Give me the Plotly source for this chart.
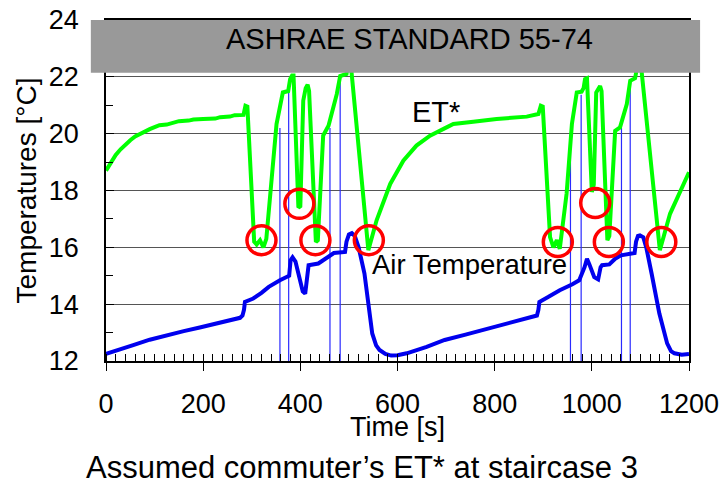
import plotly.graph_objects as go

# ---------------- data ----------------
et_t = [0, 10, 20, 30, 40, 50, 60, 70, 80, 90, 100, 110, 125, 135, 150, 170, 180, 200, 225, 235,
        255, 265, 283, 287, 291, 305, 310, 317, 324, 330, 351, 364, 375, 379, 383, 386, 396, 400,
        406, 411, 415, 418, 432, 436, 447, 458, 475, 482, 495, 500, 503, 540, 557, 585, 612, 639,
        667, 701, 715, 756, 804, 866, 890, 895, 899, 914, 921, 928, 934, 948, 959, 969, 979, 983,
        986, 990, 1000, 1004, 1009, 1017, 1020, 1032, 1036, 1048, 1058, 1072, 1079, 1089, 1096,
        1100, 1140, 1161, 1200]
et_v = [18.70, 19.00, 19.25, 19.45, 19.62, 19.77, 19.90, 20.00, 20.08, 20.16, 20.23, 20.30, 20.32,
        20.38, 20.44, 20.46, 20.50, 20.52, 20.53, 20.58, 20.60, 20.65, 20.66, 20.98, 20.95, 16.20,
        16.10, 16.25, 16.00, 16.30, 20.34, 21.45, 21.50, 21.92, 22.05, 22.05, 17.40, 17.45, 21.16,
        21.60, 21.72, 21.50, 16.19, 16.25, 19.93, 20.28, 21.39, 22.03, 22.10, 22.60, 22.60, 15.90,
        16.95, 18.23, 19.05, 19.58, 19.93, 20.22, 20.34, 20.42, 20.52, 20.60, 20.69, 20.98, 20.95,
        16.36, 16.00, 16.25, 15.95, 17.88, 20.34, 21.45, 21.48, 21.60, 21.92, 21.95, 17.95, 18.20,
        21.45, 21.68, 21.50, 16.25, 16.40, 20.10, 20.22, 21.04, 21.86, 21.95, 22.60, 22.60, 15.90,
        17.18, 18.64]

air_t = [0, 30, 56, 90, 125, 160, 193, 230, 262, 276, 281, 284, 286, 303, 320, 335, 358, 377, 380,
         384, 390, 400, 405, 410, 414, 417, 437, 453, 469, 492, 495, 500, 506, 512, 520, 532, 540,
         548, 556, 563, 575, 587, 600, 619, 660, 697, 740, 776, 815, 855, 880, 887, 890, 892, 910,
         934, 960, 974, 985, 990, 995, 1005, 1013, 1018, 1021, 1036, 1048, 1060, 1088, 1091, 1095,
         1099, 1106, 1112, 1123, 1139, 1155, 1163, 1170, 1185, 1200]
air_v = [12.25, 12.40, 12.56, 12.75, 12.91, 13.05, 13.18, 13.32, 13.44, 13.52, 13.60, 13.80, 14.08,
         14.20, 14.40, 14.61, 14.84, 15.00, 15.55, 15.65, 15.50, 14.80, 14.45, 14.37, 15.00, 15.37,
         15.43, 15.60, 15.80, 15.84, 16.20, 16.45, 16.50, 16.40, 16.00, 15.08, 13.90, 12.97, 12.55,
         12.39, 12.25, 12.19, 12.20, 12.27, 12.50, 12.74, 12.93, 13.09, 13.27, 13.44, 13.55, 13.60,
         13.80, 14.08, 14.25, 14.49, 14.70, 14.84, 15.30, 15.60, 15.40, 14.95, 14.87, 15.30, 15.37,
         15.40, 15.60, 15.72, 15.80, 16.20, 16.40, 16.42, 16.35, 16.00, 15.08, 13.67, 12.62, 12.35,
         12.27, 12.22, 12.25]

# thin vertical marker lines (time, top value)
vline_t = [358, 376, 461, 482, 956, 978, 1061, 1079]
vline_top = [20.2, 21.5, 20.2, 22.0, 19.55, 21.37, 20.2, 21.8]

# red circles (highlighted ET* minima)
circ_t = [320, 398, 431, 541, 930, 1007, 1035, 1143]
circ_v = [16.25, 17.53, 16.25, 16.25, 16.19, 17.56, 16.19, 16.19]

x_ticks = [0, 200, 400, 600, 800, 1000, 1200]
y_ticks = [12, 14, 16, 18, 20, 22, 24]

FONT = "Liberation Sans, Arial, sans-serif"

# ---------------- figure ----------------
fig = go.Figure()

vx, vy = [], []
for t, top in zip(vline_t, vline_top):
    vx += [t, t, None]
    vy += [y_ticks[0], top, None]
fig.add_trace(go.Scatter(x=vx, y=vy, mode="lines", line=dict(color="#2a2aff", width=1.2),
                         hoverinfo="skip", showlegend=False))

fig.add_trace(go.Scatter(x=air_t, y=air_v, mode="lines", name="Air Temperature",
                         line=dict(color="#0000ee", width=4), showlegend=False))
fig.add_trace(go.Scatter(x=et_t, y=et_v, mode="lines", name="ET*",
                         line=dict(color="#00ff00", width=4), showlegend=False))
fig.add_trace(go.Scatter(x=circ_t, y=circ_v, mode="markers",
                         marker=dict(symbol="circle-open", size=29, color="#ff0000",
                                     line=dict(color="#ff0000", width=3.5)),
                         showlegend=False))

# gray standard band
fig.add_shape(type="rect", xref="paper", yref="y", x0=-0.026, x1=1.019, y0=22.14, y1=24.05,
              fillcolor="#999999", line=dict(width=0), layer="above")

fig.add_annotation(text="ASHRAE STANDARD 55-74", xref="paper", yref="paper", x=0.5214, y=0.945,
                   xanchor="center", yanchor="middle", showarrow=False,
                   font=dict(size=29, color="black", family=FONT))
fig.add_annotation(text="ET*", x=679, y=20.78, xanchor="center", yanchor="middle", showarrow=False,
                   font=dict(size=29, color="black", family=FONT))
fig.add_annotation(text="Air Temperature", x=749, y=15.38, xanchor="center", yanchor="middle",
                   showarrow=False, font=dict(size=27.5, color="black", family=FONT))

# axis titles & caption as annotations (pixel placement)
fig.add_annotation(text="Temperatures [°C]", xref="paper", yref="paper", x=0, y=0.5,
                   xanchor="center", yanchor="middle", xshift=-80, textangle=-90, showarrow=False,
                   font=dict(size=28, color="black", family=FONT))
fig.add_annotation(text="Time [s]", xref="paper", yref="paper", x=0.5, y=0,
                   xanchor="center", yanchor="middle", yshift=-66, showarrow=False,
                   font=dict(size=27, color="black", family=FONT))
fig.add_annotation(text="Assumed commuter’s ET* at staircase 3", xref="paper", yref="paper",
                   x=(362 - 106) / 583, y=0, xanchor="center", yanchor="middle", yshift=-106,
                   showarrow=False, font=dict(size=31, color="black", family=FONT))

fig.update_layout(
    width=725, height=486, autosize=False,
    margin=dict(l=106, r=36, t=20, b=125, pad=0),
    paper_bgcolor="white", plot_bgcolor="white",
    font=dict(family=FONT, size=27, color="black"),
    showlegend=False,
)
fig.update_xaxes(
    range=[0, 1200], tickvals=x_ticks, ticktext=[str(v) for v in x_ticks],
    showgrid=False, zeroline=False, automargin=False,
    showline=True, linecolor="black", linewidth=1.5, mirror=True,
    ticks="outside", ticklen=8, tickwidth=1.2, tickcolor="black",
    minor=dict(dtick=20, ticks="inside", ticklen=7, tickcolor="black", tickwidth=1, showgrid=False),
    tickfont=dict(size=27, family=FONT), ticklabelstandoff=10,
)
fig.update_yaxes(
    range=[12, 24], tickvals=y_ticks, ticktext=[str(v) for v in y_ticks],
    showgrid=True, gridcolor="#555555", gridwidth=1, zeroline=False, automargin=False,
    showline=True, linecolor="black", linewidth=1.5, mirror=True,
    ticks="inside", ticklen=8, tickwidth=1.2, tickcolor="black",
    minor=dict(dtick=1, ticks="inside", ticklen=7, tickcolor="black", tickwidth=1, showgrid=False),
    tickfont=dict(size=27, family=FONT), ticklabelstandoff=20,
)

fig.write_html("out.html",
               config={"displayModeBar": False, "responsive": False},
               post_script="document.body.style.margin='0';document.body.style.overflow='hidden';")
